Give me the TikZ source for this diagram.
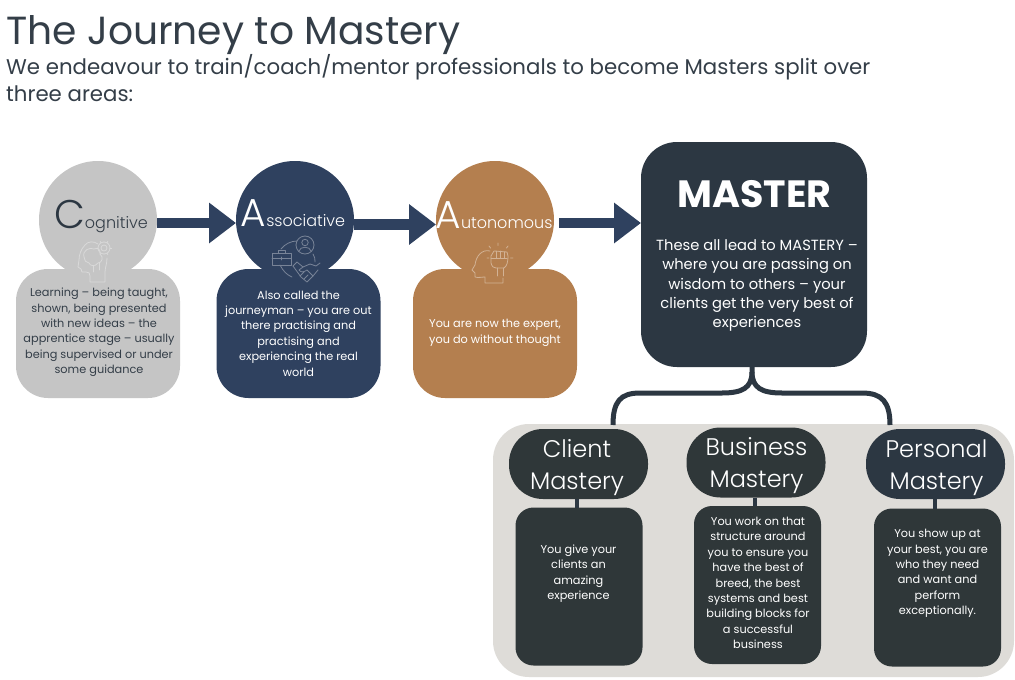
\documentclass[tikz,border=0pt]{standalone}
\usepackage{fontspec}
\setmainfont{Poppins}
\newfontfamily\thinface{Poppins Light}
\usetikzlibrary{arrows.meta,calc}
\definecolor{slateblue}{HTML}{2F415F}
\definecolor{darkslate}{HTML}{2C3742}
\definecolor{darkgreen}{HTML}{2F3739}
\definecolor{greyfill}{HTML}{C5C5C5}
\definecolor{brownfill}{HTML}{B47F4F}
\definecolor{panelgrey}{HTML}{DEDCD8}
\definecolor{inktext}{HTML}{343E48}
\tikzset{
  bubble/.style={circle,minimum size=118pt,inner sep=0pt,outer sep=0pt},
  softbox/.style={rounded corners=32pt,minimum width=164pt,minimum height=129pt,inner sep=0pt,outer sep=0pt},
  pill/.style={rounded corners=34pt,fill=#1,minimum width=139pt,minimum height=70pt,inner sep=0pt,outer sep=0pt},
  darkbox/.style={rounded corners=18pt,fill=darkgreen,minimum width=127pt,minimum height=158pt,inner sep=0pt,outer sep=0pt},
  bodytext/.style={inner sep=0pt,align=center,font=\fontsize{11.3}{15.4}\selectfont},
  pilltext/.style={inner sep=0pt,align=center,text=white,font=\thinface\fontsize{24}{32}\selectfont},
  flowarrow/.style={draw=slateblue,line width=10.5pt,-{Triangle[length=27pt,width=39pt]}},
  branch/.style={draw=darkslate,line width=5pt},
  stem/.style={draw=darkslate,line width=4pt},
  iconline/.style={draw=#1,line width=0.8pt,line cap=round,line join=round},
}
\begin{document}
\begin{tikzpicture}[x=1pt,y=-1pt]
\useasboundingbox (0,0) rectangle (1015,680);
\fill[white] (0,0) rectangle (1015,680);

% heading
\node[anchor=base west,inner sep=0pt,text=inktext,font=\fontsize{39.2}{42}\selectfont] (title) at (6,44) {The Journey to Mastery};
\node[anchor=base west,inner sep=0pt,text=inktext,font=\fontsize{21.3}{26}\selectfont] (sub1) at (6,74) {We endeavour to train/coach/mentor professionals to become Masters split over};
\node[anchor=base west,inner sep=0pt,text=inktext,font=\fontsize{21.3}{26}\selectfont] (sub2) at (6,101) {three areas:};

% bubbles and their boxes
\node[bubble,fill=greyfill] (cog) at (98,220) {};
\node[softbox,fill=greyfill] (cogbox) at (98,333.5) {};
\node[bodytext,text=inktext] (cogtext) at (99,332.5) {Learning – being taught,\\shown, being presented\\with new ideas – the\\apprentice stage – usually\\being supervised or under\\some guidance};
\node[bubble,fill=slateblue] (assoc) at (295,220) {};
\node[softbox,fill=slateblue] (assocbox) at (298.5,333.5) {};
\node[bodytext,text=white] (assoctext) at (298.5,333.5) {Also called the\\journeyman – you are out\\there practising and\\practising and\\experiencing the real\\world};
\node[bubble,fill=brownfill] (auto) at (495,220) {};
\node[softbox,fill=brownfill] (autobox) at (495,333.5) {};
\node[bodytext,text=white] (autotext) at (495,333) {You are now the expert,\\you do without thought};

% master
\node[rounded corners=36pt,fill=darkslate,minimum width=226pt,minimum height=225pt,inner sep=0pt,outer sep=0pt] (master) at (754,254.5) {};
\node[inner sep=0pt,text=white,font=\fontsize{38}{40}\bfseries\selectfont] (mastertitle) at (754.5,194) {MASTER};
\node[inner sep=0pt,text=white,align=center,font=\fontsize{14.7}{19.3}\selectfont] (masterbody) at (757,285.5) {These all lead to MASTERY –\\where you are passing on\\wisdom to others – your\\clients get the very best of\\experiences};

% bubble labels
\node[anchor=base,inner sep=0pt,text=inktext,font=\thinface\fontsize{16}{18}\selectfont] (coglabel) at (101,228) {{\fontsize{40}{40}\selectfont\color{darkslate}C}ognitive};
\node[anchor=base,inner sep=0pt,text=white,font=\thinface\fontsize{16}{18}\selectfont] (assoclabel) at (293,226) {{\fontsize{39}{40}\selectfont A}ssociative};
\node[anchor=base,inner sep=0pt,text=white,font=\thinface\fontsize{16}{18}\selectfont] (autolabel) at (494,228) {{\fontsize{39}{40}\selectfont A}utonomous};

% flow arrows
\draw[flowarrow] ([yshift=-3pt]cog.east) -- ([yshift=-3pt]assoc.west);
\draw[flowarrow] ([yshift=-4.5pt]assoc.east) -- ([yshift=-4.5pt]auto.west);
\draw[flowarrow] ([xshift=5pt,yshift=-3pt]auto.east) -- ([yshift=-3pt]auto.east -| master.west);

% panel
\node[rounded corners=36pt,fill=panelgrey,minimum width=521pt,minimum height=253pt,inner sep=0pt,outer sep=0pt] (panel) at (753.5,550.5) {};
\coordinate (forkstart) at (752,360);
\coordinate (lefttop) at (613,425);
\coordinate (righttop) at (890,425);
\draw[branch] (forkstart) -- (752,372) .. controls (752,388) and (742,393) .. (722,393) -- (640,393) .. controls (620,393) and (613,402) .. (lefttop);
\draw[branch] (752,372) .. controls (752,388) and (762,393) .. (782,393) -- (862,393) .. controls (882,393) and (890,402) .. (righttop);

\node[pill=darkgreen] (clientp) at (578.5,464) {};
\node[pill=darkgreen] (businessp) at (756,462.5) {};
\node[pill=darkslate] (personalp) at (935.5,464) {};
\node[pilltext] (clienttxt) at (577,468) {Client\\Mastery};
\node[pilltext] (businesstxt) at (756.5,466) {Business\\Mastery};
\node[pilltext] (personaltxt) at (936.5,467.5) {Personal\\Mastery};

\node[darkbox] (clientb) at (579,586.5) {};
\node[darkbox] (businessb) at (757.5,585) {};
\node[darkbox] (personalb) at (937.5,587.5) {};
\node[bodytext,text=white] (clienttext) at (578.5,573.5) {You give your\\clients an\\amazing\\experience};
\node[bodytext,text=white] (businesstext) at (758,583) {You work on that\\structure around\\you to ensure you\\have the best of\\breed, the best\\systems and best\\building blocks for\\a successful\\business};
\node[bodytext,text=white] (personaltext) at (937.5,573.5) {You show up at\\your best, you are\\who they need\\and want and\\perform\\exceptionally.};
\draw[stem] ([xshift=-1.5pt]clientp.south) -- ([xshift=-1.5pt]clientp.south |- clientb.north);
\draw[stem] ([xshift=-1pt]businessp.south) -- ([xshift=-1pt]businessp.south |- businessb.north);
\draw[stem] ([xshift=-0.5pt]personalp.south) -- ([xshift=-0.5pt]personalp.south |- personalb.north);

% icon: head with gear
\begin{scope}[iconline=white!35!greyfill]
\draw (98,244) .. controls (94,241) and (88,241) .. (85,245) .. controls (81,249) and (79,255) .. (79,260) -- (78,267) -- (81,269) -- (82,272) -- (86,272) .. controls (89,272) and (90,273) .. (90,276) -- (90,282) -- (105,282) -- (105,272) .. controls (105,268) and (107,264) .. (107,258);
\draw (84,257) .. controls (82,250) and (90,247) .. (94,249) .. controls (98,247) and (101,250) .. (100,254) .. controls (104,257) and (102,263) .. (98,263) .. controls (95,267) and (90,266) .. (89,263) .. controls (86,263) and (84,260) .. (84,257);
\draw (93,266) -- (93,272) (99,263) -- (99,270);
\draw (104,248) circle[radius=3];
\draw (104,248) circle[radius=6];
\foreach \a in {0,60,...,300} {\draw (104,248) ++(\a:6) -- ++(\a:1.6);}
\end{scope}

% icon: network with briefcase and handshake
\begin{scope}[iconline=white!35!slateblue]
\draw (281,249) .. controls (285,244) and (291,241) .. (297,241);
\draw (313,254) .. controls (315,257) and (315,259) .. (315,262);
\draw (280,265) .. controls (283,271) and (287,275) .. (292,277);
\draw (305,245) circle[radius=9];
\draw (305,242.5) circle[radius=3.2];
\draw (299,251) .. controls (300,246) and (310,246) .. (311,251);
\draw (272,253) rectangle (291,265);
\draw (278,253) -- (278,250) -- (285,250) -- (285,253);
\draw (272,258) -- (291,258) (281.5,257) -- (281.5,260);
\draw (293,266) -- (297,262) -- (303,267) -- (310,264) -- (316,266) -- (320,263);
\draw (293,266) -- (301,277) -- (307,282) -- (313,276) -- (318,270);
\draw (303,267) -- (299,270) .. controls (301,273) and (304,272) .. (307,270) -- (313,276);
\draw (300,276) -- (304,272) (304,279) -- (308,275);
\end{scope}

% icon: head with raised fist
\begin{scope}[iconline=white!40!brownfill]
\draw (490,251) .. controls (482,249) and (476,256) .. (475,265) -- (472,270) -- (475,273) -- (475,277) .. controls (478,278) and (482,277) .. (485,277) -- (485,283) -- (503,283) -- (503,278);
\draw (491,256) -- (491,263) .. controls (492,267) and (494,268) .. (496,268) -- (504,268) .. controls (507,266) and (508,262) .. (508,256) -- (507,252) -- (494,251) -- (491,256);
\draw (496,251) -- (496,258) (500,251) -- (500,258) (504,252) -- (504,258) (491,258) -- (507,258);
\draw (497,268) -- (497,276) (503,268) -- (503,276);
\draw (498,243) -- (498,245.5) (508,246) -- (506.5,248) (513,258) -- (510.5,258) (487,258) -- (489,258) (489,246) -- (490.5,248);
\end{scope}
\end{tikzpicture}
\end{document}
